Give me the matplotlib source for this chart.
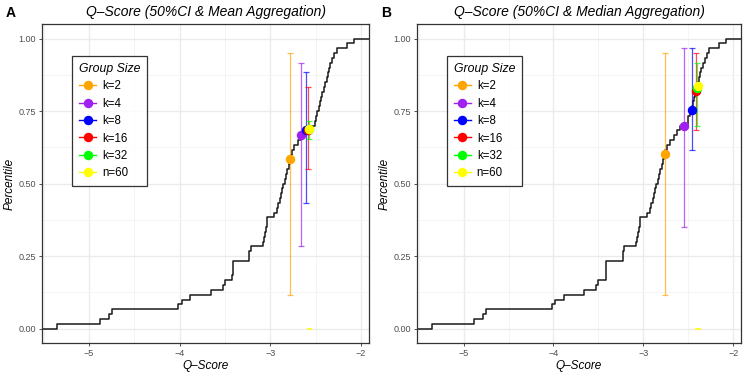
import numpy as np
import matplotlib.pyplot as plt
from matplotlib.lines import Line2D

plt.rcParams['font.family'] = ['Liberation Sans', 'DejaVu Sans']

# sorted Q-scores (n=60)
q_scores = [
    -5.355, -4.879, -4.784, -4.747, -4.022, -3.978, -3.887, -3.659, -3.524, -3.505,
    -3.421, -3.412, -3.412, -3.412, -3.231, -3.231, -3.212, -3.077, -3.066, -3.055,
    -3.044, -3.038, -3.033, -2.956, -2.923, -2.912, -2.896, -2.885, -2.871, -2.863,
    -2.841, -2.824, -2.813, -2.791, -2.784, -2.775, -2.758, -2.736, -2.700, -2.659,
    -2.626, -2.593, -2.505, -2.498, -2.484, -2.462, -2.451, -2.440, -2.429, -2.412,
    -2.396, -2.379, -2.368, -2.357, -2.341, -2.319, -2.297, -2.264, -2.157, -2.077,
]

groups = ["k=2", "k=4", "k=8", "k=16", "k=32", "n=60"]
group_colors = ["#FFA500", "#A020F0", "#0000FF", "#FF0000", "#00FF00", "#FFFF00"]

# panel A: mean aggregation
mean_x = [-2.784, -2.667, -2.612, -2.590, -2.579, -2.571]
mean_pct = [0.585, 0.667, 0.684, 0.686, 0.688, 0.688]
mean_lo = [0.117, 0.284, 0.433, 0.551, 0.652, 0.0]
mean_hi = [0.951, 0.916, 0.885, 0.833, 0.717, 0.0]

# panel B: median aggregation
med_x = [-2.764, -2.547, -2.456, -2.419, -2.401, -2.393]
med_pct = [0.601, 0.700, 0.752, 0.818, 0.830, 0.835]
med_lo = [0.117, 0.351, 0.617, 0.686, 0.700, 0.0]
med_hi = [0.951, 0.967, 0.967, 0.951, 0.916, 0.0]


def draw_panel(ax, xs, pct, lo, hi, title):
    vals = np.sort(np.array(q_scores))
    n = len(vals)
    xmin, xmax = vals.min(), vals.max()
    pad = (xmax - xmin) * 0.05
    lims = (xmin - pad, xmax + pad)

    # grid like theme_bw
    ax.set_xticks([-5, -4, -3, -2])
    ax.set_xticks([-5.5, -4.5, -3.5, -2.5], minor=True)
    ax.set_yticks([0, 0.25, 0.5, 0.75, 1.0])
    ax.set_yticks([0.125, 0.375, 0.625, 0.875], minor=True)
    ax.set_yticklabels(["0.00", "0.25", "0.50", "0.75", "1.00"])
    ax.grid(True, which='major', color='#EBEBEB', linewidth=1.0)
    ax.grid(True, which='minor', color='#F3F3F3', linewidth=0.6)
    ax.set_axisbelow(True)

    # ecdf
    step_x = np.concatenate([[lims[0] - 1], vals, [lims[1] + 1]])
    step_y = np.concatenate([[0], np.arange(1, n + 1) / n, [1]])
    ax.step(step_x, step_y, where='post', color='#1a1a1a', linewidth=1.1, zorder=2)

    for i in range(len(groups)):
        if hi[i] > 0:
            ax.errorbar([xs[i]], [pct[i]], yerr=[[pct[i] - lo[i]], [hi[i] - pct[i]]],
                        fmt='none', ecolor=group_colors[i], alpha=0.7, elinewidth=0.9,
                        capsize=2.0, capthick=0.9, zorder=3)
        else:
            ax.plot([xs[i] - 0.02, xs[i] + 0.02], [0, 0], color=group_colors[i], linewidth=1.2, zorder=3)
        ax.plot(xs[i], pct[i], 'o', color=group_colors[i], markersize=5.8, zorder=4)

    ax.set_xlim(lims)
    ax.set_ylim(-0.05, 1.05)
    ax.tick_params(which='major', length=2.5, width=0.6, color='#333333', labelcolor='#4D4D4D',
                   labelsize=6.5, pad=2)
    ax.tick_params(which='minor', length=0)
    for s in ax.spines.values():
        s.set_color('#333333')
        s.set_linewidth(0.9)
    ax.set_title(title, fontsize=10, style='italic', pad=6)
    ax.set_xlabel("Q–Score", fontsize=8.5, style='italic', labelpad=1)
    ax.set_ylabel("Percentile", fontsize=8.5, style='italic')
    ax.yaxis.set_label_coords(-0.082, 0.5)

    handles = [Line2D([0], [0], color=c, marker='o', markersize=5.8, linewidth=1.0) for c in group_colors]
    leg = ax.legend(handles, groups, title="Group Size", loc='upper left', bbox_to_anchor=(0.092, 0.9),
                    borderaxespad=0, fontsize=8.3, handlelength=1.5, handletextpad=0.5,
                    labelspacing=0.47, frameon=True, fancybox=False, borderpad=0.6)
    leg.get_frame().set_edgecolor('black')
    leg.get_frame().set_linewidth(0.9)
    leg.get_title().set_fontstyle('italic')
    leg.get_title().set_fontsize(8.8)
    leg._legend_box.align = "left"


fig = plt.figure(figsize=(7.5, 3.75), dpi=100)
ax1 = fig.add_axes([0.056, 0.085, 0.436, 0.851])
ax2 = fig.add_axes([0.556, 0.085, 0.432, 0.851])

draw_panel(ax1, mean_x, mean_pct, mean_lo, mean_hi, "Q–Score (50%CI & Mean Aggregation)")
draw_panel(ax2, med_x, med_pct, med_lo, med_hi, "Q–Score (50%CI & Median Aggregation)")

fig.text(0.008, 0.985, "A", fontsize=10, fontweight='bold', va='top')
fig.text(0.508, 0.985, "B", fontsize=10, fontweight='bold', va='top')

plt.savefig("out.png", dpi=100)
plt.close()
